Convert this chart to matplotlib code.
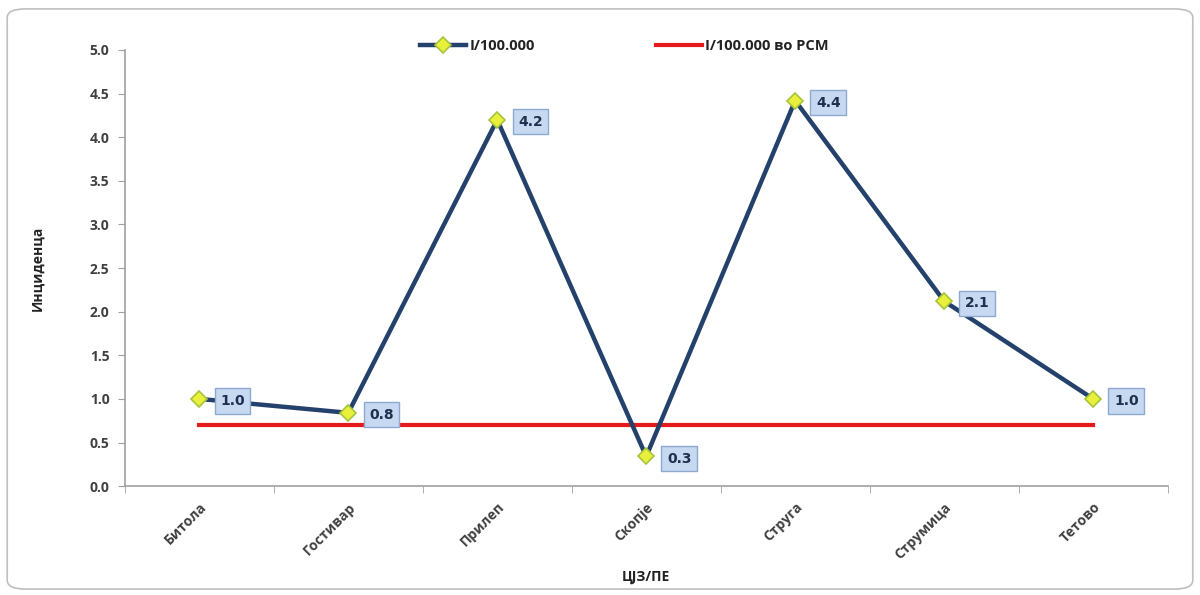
import matplotlib
matplotlib.use("Agg")
import matplotlib.pyplot as plt
from matplotlib.patches import FancyBboxPatch

regions = ["Битола", "Гостивар", "Прилеп", "Скопје", "Струга", "Струмица", "Тетово"]
incidence = [1.0, 0.84, 4.2, 0.34, 4.42, 2.12, 1.0]
national_rate = 0.7
series_label = "I/100.000"
national_label = "I/100.000 во РСМ"
y_ticks = [0.0, 0.5, 1.0, 1.5, 2.0, 2.5, 3.0, 3.5, 4.0, 4.5, 5.0]

plt.rcParams["font.family"] = ["Open Sans", "DejaVu Sans"]

fig = plt.figure(figsize=(12, 5.95), dpi=100)
# rounded frame around the whole chart
frame = FancyBboxPatch((0.006, 0.01), 0.988, 0.975, boxstyle="round,pad=0,rounding_size=0.015",
                       transform=fig.transFigure, facecolor="none", edgecolor="#BFBFBF",
                       linewidth=1.2, zorder=-1)
fig.patches.append(frame)

ax = fig.add_axes([0.104, 0.183, 0.869, 0.733])
ax.set_facecolor("none")
x = list(range(len(regions)))

ax.plot(x, [national_rate] * len(x), color="#E41A1C", linewidth=3, label=national_label, zorder=2)
ax.plot(x, incidence, color="#24416B", linewidth=3.2, marker="D", markersize=8.5,
        markerfacecolor="#E8F03C", markeredgecolor="#A8C43A", markeredgewidth=1.2,
        label=series_label, zorder=3)

# value labels in light blue boxes to the right of each point
for xi, v in zip(x, incidence):
    ax.annotate(f"{v:.1f}", (xi, v), xytext=(15, -1.5), textcoords="offset points",
                ha="left", va="center", fontsize=10, fontweight="bold", color="#1F2F4F",
                family="DejaVu Sans",
                bbox=dict(boxstyle="square,pad=0.4", facecolor="#C6D9F1", edgecolor="#8EA9CF",
                          linewidth=1),
                zorder=5)

ax.set_xlim(-0.5, len(regions) - 0.5)
ax.set_ylim(0, 5)
ax.set_yticks(y_ticks)
ax.set_yticklabels([f"{t:.1f}" for t in y_ticks], fontsize=10, fontweight="bold", color="#404040")
ax.set_xticks(x)
ax.set_xticklabels(regions, rotation=45, ha="right", rotation_mode="anchor",
                   fontsize=10, fontweight="bold", color="#404040")
ax.set_xticks([i - 0.5 for i in range(len(regions) + 1)], minor=True)
ax.tick_params(axis="x", which="major", length=0, pad=10)
ax.tick_params(axis="x", which="minor", length=5, color="#A0A0A0")
ax.tick_params(axis="y", length=5, color="#A0A0A0", pad=6)

for side in ("top", "right"):
    ax.spines[side].set_visible(False)
for side in ("left", "bottom"):
    ax.spines[side].set_color("#A0A0A0")
    ax.spines[side].set_linewidth(1.2)

ax.set_ylabel("Инциденца", fontsize=10, fontweight="bold", color="#222222", labelpad=33)
ax.set_xlabel("ЦЈЗ/ПЕ", fontsize=10, fontweight="bold", color="#222222", labelpad=6)

handles, labels = ax.get_legend_handles_labels()
leg = ax.legend(handles[::-1], labels[::-1], loc="upper center", bbox_to_anchor=(0.479, 1.055),
                ncol=2, frameon=False, fontsize=10.5, columnspacing=8.3, handlelength=3.2,
                handletextpad=0.2)
for t in leg.get_texts():
    t.set_fontweight("bold")
    t.set_color("#222222")

fig.savefig("out.png", dpi=100)
